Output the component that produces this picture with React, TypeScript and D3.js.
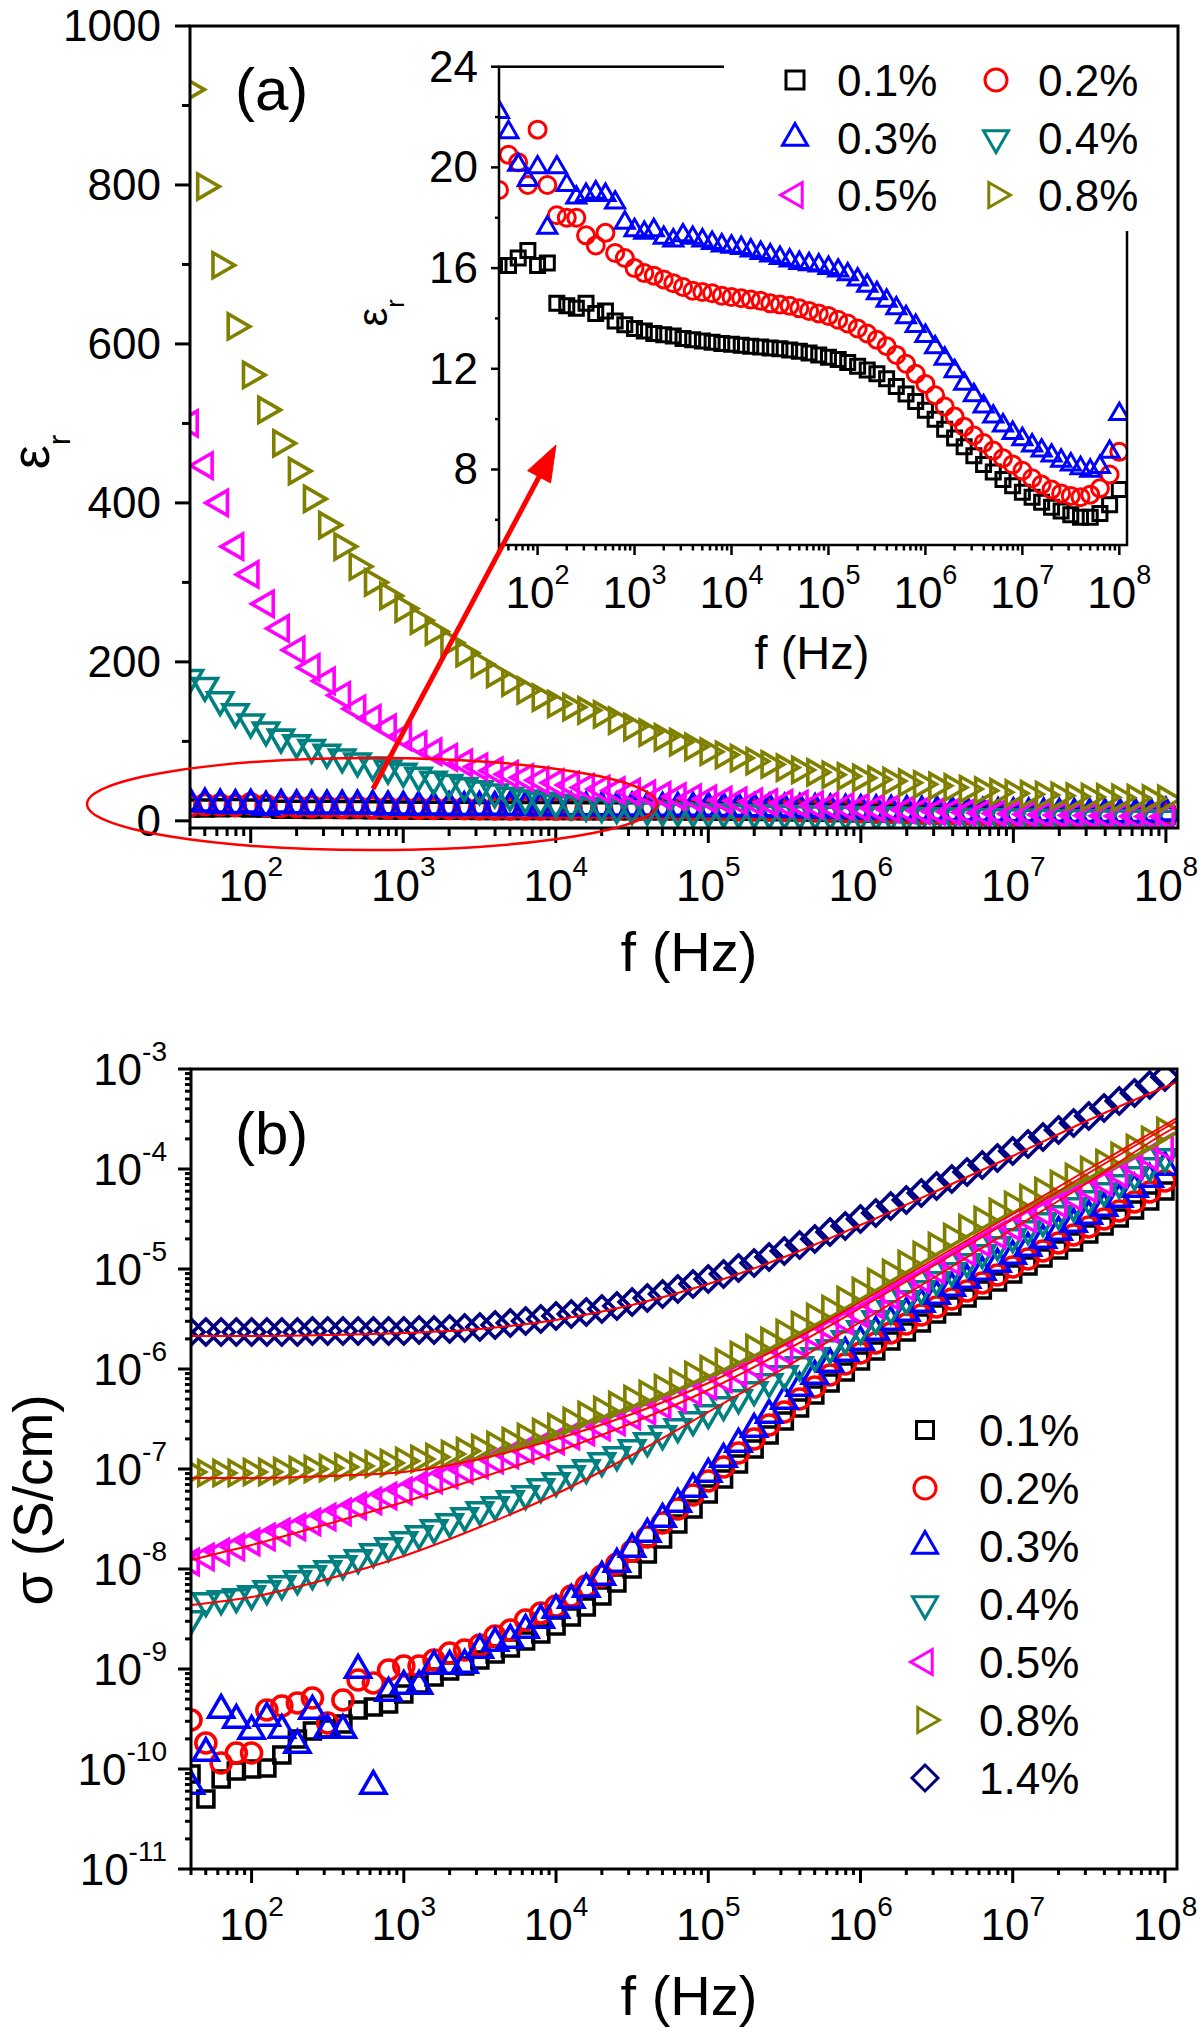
import React, { useEffect } from "react";
import * as d3 from "d3";

// ---------------- DATA ----------------
// frequency grid (Hz), 10 points per decade, 40 Hz .. 100 MHz
const FREQ = [
  40, 50.1, 63.1, 79.4,
  1e2, 1.26e2, 1.58e2, 2e2, 2.51e2, 3.16e2, 3.98e2, 5.01e2, 6.31e2, 7.94e2,
  1e3, 1.26e3, 1.58e3, 2e3, 2.51e3, 3.16e3, 3.98e3, 5.01e3, 6.31e3, 7.94e3,
  1e4, 1.26e4, 1.58e4, 2e4, 2.51e4, 3.16e4, 3.98e4, 5.01e4, 6.31e4, 7.94e4,
  1e5, 1.26e5, 1.58e5, 2e5, 2.51e5, 3.16e5, 3.98e5, 5.01e5, 6.31e5, 7.94e5,
  1e6, 1.26e6, 1.58e6, 2e6, 2.51e6, 3.16e6, 3.98e6, 5.01e6, 6.31e6, 7.94e6,
  1e7, 1.26e7, 1.58e7, 2e7, 2.51e7, 3.16e7, 3.98e7, 5.01e7, 6.31e7, 7.94e7,
  1e8,
];

// panel (a): relative permittivity
const EPS_01 = [16.1,16.1,16.4,16.7,16.1,16.2,14.6,14.5,14.4,14.6, 14.2,14.3,13.9,13.75,13.6,13.5,13.4,13.35,13.3,13.2, 13.15,13.1,13.05,13.0,12.97,12.93,12.9,12.87,12.83,12.8, 12.75,12.7,12.63,12.55,12.46,12.37,12.25,12.1,11.95,11.8, 11.6,11.3,11.0,10.7,10.35,10.0,9.6,9.25,8.9,8.55, 8.2,7.9,7.6,7.35,7.1,6.9,6.7,6.5,6.35,6.2, 6.1,6.1,6.25,6.6,7.2];
const EPS_02 = [19.1,20.5,20.2,19.3,21.5,19.3,18.1,18.0,18.0,17.3, 16.9,17.4,16.6,16.4,16.0,15.8,15.7,15.55,15.4,15.25, 15.1,15.05,15.0,14.9,14.85,14.8,14.75,14.7,14.6,14.55, 14.5,14.4,14.3,14.2,14.1,13.95,13.8,13.6,13.4,13.15, 12.9,12.55,12.2,11.8,11.4,10.95,10.5,10.1,9.7,9.35, 9.05,8.75,8.45,8.2,7.95,7.65,7.4,7.2,7.05,6.95, 6.9,7.0,7.25,7.8,8.7];
const EPS_03 = [22.2,21.4,20.1,19.5,20.0,17.6,20.0,19.3,18.8,18.9, 19.0,18.9,18.6,17.8,17.5,17.4,17.5,17.2,17.1,17.3, 17.2,17.1,17.0,16.9,16.85,16.8,16.7,16.6,16.5,16.4, 16.3,16.2,16.15,16.1,16.0,15.9,15.75,15.55,15.3,15.0, 14.7,14.4,14.05,13.7,13.3,12.85,12.4,11.9,11.4,10.95, 10.5,10.1,9.75,9.45,9.2,8.95,8.75,8.55,8.35,8.2, 8.05,7.95,8.1,8.7,10.2];
const EPS_04 = [180,170,152,137,124,114,105,98,92,86, 80,75,70,66,62,57,52,48,44,40, 36,32,28.5,25.5,23,21,19,17.5,16.2,15, 14,13.2,12.5,11.8,11.2,10.7,10.2,9.8,9.4,9, 8.7,8.4,8.1,7.8,7.5,7.2,6.9,6.6,6.3,6, 5.7,5.4,5.1,4.8,4.5,4.3,4.1,3.9,3.7,3.5, 3.4,3.3,3.2,3.1,3.0];
const EPS_05 = [500,447,400,345,310,273,242,215,193,176, 158,141,129,117,106,96,87,80,73,68, 63,58.5,54.5,51,48,45,42,40,38,36, 34,32,30.5,29,27.5,26,25,24,23,22, 21,20,19,18,17,16,15,14,13,12, 11.3,10.6,10,9.4,8.8,8.3,7.8,7.4,7,6.6, 6.3,6,5.7,5.5,5.3];
const EPS_08 = [920,798,699,622,561,517,475,440,405,372, 345,320,300,283,267,252,238,224,211,197, 185,174,164,155,147,143,139,134,126,118, 111,105,99,93,87,83,79,75,71,67, 64,61,58,56,54,52,50,48,46,44, 42,40,38,36,34.5,33.5,32.5,31.5,30.5,30, 29.5,29,28.5,28,27.5];

// panel (b): conductivity, stored as log10(sigma / (S/cm))
const SIG_01_LOG = [-10.05,-10.3,-10.1,-10.02,-10.0,-9.99,-9.86,-9.7,-9.62,-9.6, -9.55,-9.41,-9.38,-9.35,-9.25,-9.15,-9.08,-9.02,-8.97,-8.91, -8.85,-8.79,-8.72,-8.65,-8.57,-8.48,-8.38,-8.27,-8.14,-8.0, -7.85,-7.7,-7.55,-7.4,-7.25,-7.1,-6.95,-6.8,-6.66,-6.52, -6.39,-6.26,-6.14,-6.03,-5.92,-5.82,-5.72,-5.63,-5.54,-5.45, -5.37,-5.29,-5.21,-5.13,-5.05,-4.97,-4.89,-4.81,-4.73,-4.65, -4.57,-4.49,-4.41,-4.32,-4.22];
const SIG_02_LOG = [-9.51,-9.74,-9.94,-9.84,-9.84,-9.41,-9.37,-9.34,-9.29,-9.54, -9.31,-9.11,-9.14,-9.01,-8.97,-8.97,-8.91,-8.84,-8.81,-8.76, -8.67,-8.61,-8.51,-8.44,-8.37,-8.27,-8.17,-8.07,-7.95,-7.82, -7.68,-7.54,-7.4,-7.26,-7.12,-6.98,-6.84,-6.7,-6.56,-6.43, -6.3,-6.18,-6.06,-5.95,-5.84,-5.74,-5.64,-5.55,-5.46,-5.38, -5.3,-5.22,-5.14,-5.06,-4.98,-4.9,-4.82,-4.74,-4.66,-4.58, -4.5,-4.42,-4.33,-4.23,-4.12];
const SIG_03_LOG = [-10.17,-9.84,-9.41,-9.51,-9.62,-9.49,-9.61,-9.76,-9.42,-9.61, -9.61,-9.01,-10.17,-9.24,-9.17,-9.17,-8.97,-8.97,-8.96,-8.81, -8.74,-8.71,-8.61,-8.51,-8.41,-8.31,-8.2,-8.08,-7.95,-7.8, -7.65,-7.5,-7.35,-7.2,-7.05,-6.9,-6.75,-6.6,-6.46,-6.32, -6.19,-6.07,-5.95,-5.84,-5.73,-5.63,-5.53,-5.44,-5.35,-5.27, -5.19,-5.11,-5.03,-4.95,-4.87,-4.79,-4.71,-4.63,-4.55,-4.47, -4.39,-4.3,-4.2,-4.1,-3.98];
const SIG_04_LOG = [-8.5,-8.32,-8.3,-8.28,-8.25,-8.2,-8.15,-8.1,-8.05,-8.0, -7.95,-7.89,-7.83,-7.77,-7.71,-7.65,-7.59,-7.53,-7.47,-7.41, -7.36,-7.3,-7.25,-7.18,-7.12,-7.05,-6.99,-6.92,-6.86,-6.79, -6.72,-6.65,-6.58,-6.51,-6.44,-6.36,-6.29,-6.21,-6.13,-6.05, -5.96,-5.87,-5.79,-5.7,-5.6,-5.5,-5.4,-5.3,-5.2,-5.11, -5.02,-4.93,-4.84,-4.76,-4.68,-4.6,-4.52,-4.45,-4.37,-4.3, -4.22,-4.14,-4.06,-3.97,-3.88];
const SIG_05_LOG = [-7.93,-7.88,-7.83,-7.78,-7.73,-7.68,-7.63,-7.58,-7.53,-7.48, -7.43,-7.37,-7.32,-7.27,-7.22,-7.16,-7.11,-7.06,-7.01,-6.96, -6.91,-6.86,-6.81,-6.77,-6.72,-6.67,-6.63,-6.58,-6.53,-6.47, -6.42,-6.36,-6.3,-6.23,-6.17,-6.1,-6.04,-5.97,-5.9,-5.82, -5.75,-5.67,-5.6,-5.52,-5.45,-5.36,-5.27,-5.18,-5.1,-5.01, -4.92,-4.83,-4.74,-4.66,-4.58,-4.5,-4.43,-4.35,-4.28,-4.2, -4.13,-4.05,-3.97,-3.88,-3.78];
const SIG_08_LOG = [-7.03,-7.04,-7.04,-7.04,-7.03,-7.03,-7.02,-7.01,-7.0,-6.99, -6.98,-6.97,-6.95,-6.94,-6.92,-6.9,-6.88,-6.85,-6.82,-6.79, -6.76,-6.72,-6.68,-6.63,-6.58,-6.52,-6.46,-6.41,-6.36,-6.3, -6.25,-6.19,-6.13,-6.06,-6.0,-5.93,-5.86,-5.79,-5.72,-5.64, -5.56,-5.48,-5.4,-5.31,-5.22,-5.13,-5.04,-4.95,-4.86,-4.77, -4.68,-4.59,-4.51,-4.43,-4.36,-4.29,-4.22,-4.15,-4.08,-4.01, -3.94,-3.87,-3.79,-3.71,-3.62];
const SIG_14_LOG = [-5.63,-5.63,-5.63,-5.63,-5.63,-5.63,-5.63,-5.63,-5.62,-5.62, -5.62,-5.62,-5.62,-5.62,-5.62,-5.61,-5.61,-5.6,-5.59,-5.58, -5.56,-5.54,-5.52,-5.5,-5.47,-5.45,-5.43,-5.4,-5.37,-5.33, -5.29,-5.25,-5.2,-5.15,-5.1,-5.05,-4.99,-4.94,-4.88,-4.82, -4.76,-4.7,-4.63,-4.57,-4.5,-4.44,-4.37,-4.31,-4.24,-4.17, -4.1,-4.03,-3.96,-3.89,-3.82,-3.75,-3.68,-3.61,-3.54,-3.47, -3.39,-3.32,-3.24,-3.16,-3.08];

// fitted curves (red lines), log10(sigma)
const FIT_FREQ = [40, 1e2, 3.16e2, 1e3, 3.16e3, 1e4, 3.16e4, 1e5, 3.16e5, 1e6, 3.16e6, 1e7, 3.16e7, 1e8, 1.2e8];
const FIT_04_LOG = [-8.36,-8.28,-8.1,-7.87,-7.58,-7.25,-6.86,-6.43,-5.99,-5.53,-5.07,-4.6,-4.13,-3.64,-3.57];
const FIT_05_LOG = [-7.91,-7.76,-7.55,-7.33,-7.09,-6.83,-6.54,-6.21,-5.82,-5.39,-4.95,-4.5,-4.04,-3.59,-3.52];
const FIT_08_LOG = [-7.09,-7.09,-7.07,-7.03,-6.9,-6.7,-6.45,-6.14,-5.76,-5.33,-4.89,-4.45,-4.0,-3.56,-3.49];
const FIT_14_LOG = [-5.67,-5.67,-5.66,-5.64,-5.6,-5.51,-5.36,-5.15,-4.88,-4.56,-4.22,-3.87,-3.51,-3.18,-3.13];

// ticks
const X_DECADES = [2, 3, 4, 5, 6, 7, 8];
const A_YTICKS = [0, 200, 400, 600, 800, 1000];
const A_YMINOR = [100, 300, 500, 700, 900];
const I_YTICKS = [8, 12, 16, 20, 24];
const I_YMINOR = [6, 10, 14, 18, 22];
const B_YDECADES = [-11, -10, -9, -8, -7, -6, -5, -4, -3];

const LABELS = ["0.1%", "0.2%", "0.3%", "0.4%", "0.5%", "0.8%", "1.4%"];
const COLORS = ["#000000", "#ff0000", "#0000ff", "#008080", "#ff00ff", "#808000", "#000080"];
const SYMBOLS = ["square", "circle", "up", "down", "left", "right", "diamond"];

// ---------------- HELPERS ----------------
const FONT = "'Liberation Sans', Arial, Helvetica, sans-serif";

type Z = { tri: number; sq: number; r: number; dia: number };

function symPath(sym: string, z: Z): string {
  const a = z.tri;
  const R = a / Math.sqrt(3);
  const h = a / 2;
  switch (sym) {
    case "square": {
      const s = z.sq / 2;
      return `M${-s},${-s}H${s}V${s}H${-s}Z`;
    }
    case "circle": {
      const r = z.r;
      return `M${r},0A${r},${r} 0 1,1 ${-r},0A${r},${r} 0 1,1 ${r},0Z`;
    }
    case "up":
      return `M0,${-R}L${h},${R / 2}L${-h},${R / 2}Z`;
    case "down":
      return `M0,${R}L${h},${-R / 2}L${-h},${-R / 2}Z`;
    case "left":
      return `M${-R},0L${R / 2},${-h}L${R / 2},${h}Z`;
    case "right":
      return `M${R},0L${-R / 2},${-h}L${-R / 2},${h}Z`;
    default: {
      const d = z.dia;
      return `M0,${-d}L${d},0L0,${d}L${-d},0Z`;
    }
  }
}

const Z_MAIN: Z = { tri: 25, sq: 16, r: 10, dia: 13 };
const Z_INSET: Z = { tri: 19, sq: 14, r: 8.5, dia: 9 };
const Z_LEGA: Z = { tri: 25, sq: 18, r: 11, dia: 13 };
const Z_LEGB: Z = { tri: 25, sq: 17, r: 11, dia: 13 };

function isDecade(v: number) {
  const l = Math.log10(v);
  return Math.abs(l - Math.round(l)) < 1e-6;
}

function Markers(props: {
  xs: (v: number) => number;
  ys: (v: number) => number;
  values: number[];
  sym: string;
  color: string;
  z: Z;
  sw: number;
  clip: string;
}) {
  const { xs, ys, values, sym, color, z, sw, clip } = props;
  const d = symPath(sym, z);
  return (
    <g clipPath={`url(#${clip})`}>
      {values.map((v, i) => (
        <path
          key={i}
          d={d}
          transform={`translate(${xs(FREQ[i]).toFixed(2)},${ys(v).toFixed(2)})`}
          fill="none"
          stroke={color}
          strokeWidth={sw}
        />
      ))}
    </g>
  );
}

function PowLabel(props: { x: number; y: number; exp: string; size: number; sup: number; dy: number; anchor: string }) {
  const { x, y, exp, size, sup, dy, anchor } = props;
  return (
    <text x={x} y={y} fontSize={size} textAnchor={anchor as any} fill="#000">
      10
      <tspan fontSize={sup} dy={-dy}>
        {exp}
      </tspan>
    </text>
  );
}

export default function App() {
  useEffect(() => {
    document.body.style.margin = "0";
  }, []);

  // scales
  const xA = d3.scaleLog().domain([40, 1.2e8]).range([190, 1178]);
  const yA = d3.scaleLinear().domain([-9, 1000]).range([828, 26]);
  const xI = d3.scaleLog().domain([40, 1.2e8]).range([499, 1127]);
  const yI = d3.scaleLinear().domain([5, 24]).range([545, 66.7]);
  const xB = d3.scaleLog().domain([40, 1.2e8]).range([191, 1177]);
  const yB = d3.scaleLog().domain([1e-11, 1e-3]).range([1869, 1069]);

  const A_SERIES = [EPS_01, EPS_02, EPS_03, EPS_04, EPS_05, EPS_08];
  const I_SERIES = [EPS_01, EPS_02, EPS_03];
  const B_SERIES = [SIG_01_LOG, SIG_02_LOG, SIG_03_LOG, SIG_04_LOG, SIG_05_LOG, SIG_08_LOG, SIG_14_LOG].map((s) =>
    s.map((v) => Math.pow(10, v))
  );
  const FITS = [FIT_04_LOG, FIT_05_LOG, FIT_08_LOG, FIT_14_LOG].map((s) => s.map((v) => Math.pow(10, v)));

  const fitLine = d3
    .line<number>()
    .x((_, i) => xB(FIT_FREQ[i]))
    .y((v) => yB(v))
    .curve(d3.curveMonotoneX);

  const xTicks = xA.ticks();
  const bYTicks = yB.ticks();

  // arrow geometry
  const tail = [373, 789];
  const tip = [556, 445];
  const dx = tip[0] - tail[0];
  const dyv = tip[1] - tail[1];
  const len = Math.hypot(dx, dyv);
  const ux = dx / len;
  const uy = dyv / len;
  const HL = 36;
  const HW = 13;
  const bx = tip[0] - ux * HL;
  const by = tip[1] - uy * HL;
  const head = `M${tip[0]},${tip[1]}L${bx - uy * HW},${by + ux * HW}L${bx + uy * HW},${by - ux * HW}Z`;

  // legend a layout
  const legA = [
    { i: 0, x: 795, tx: 837, y: 80 },
    { i: 1, x: 996, tx: 1038, y: 80 },
    { i: 2, x: 795, tx: 837, y: 138 },
    { i: 3, x: 996, tx: 1038, y: 138 },
    { i: 4, x: 795, tx: 837, y: 195 },
    { i: 5, x: 996, tx: 1038, y: 195 },
  ];

  return (
    <svg
      width={1200}
      height={2029}
      viewBox="0 0 1200 2029"
      style={{ position: "absolute", left: 0, top: 0, background: "#fff" }}
      fontFamily={FONT}
    >
      <defs>
        <clipPath id="clipA">
          <rect x={190} y={26} width={988} height={802} />
        </clipPath>
        <clipPath id="clipI">
          <rect x={499} y={66.7} width={628} height={478.3} />
        </clipPath>
        <clipPath id="clipB">
          <rect x={191} y={1069} width={986} height={800} />
        </clipPath>
      </defs>
      <rect x={0} y={0} width={1200} height={2029} fill="#fff" />

      {/* ================= PANEL A ================= */}
      {A_SERIES.map((vals, k) => (
        <Markers key={k} xs={xA} ys={yA} values={vals} sym={SYMBOLS[k]} color={COLORS[k]} z={Z_MAIN} sw={3.6} clip="clipA" />
      ))}

      {/* axes ticks */}
      {A_YTICKS.map((v) => (
        <line key={"ay" + v} x1={175} x2={190} y1={yA(v)} y2={yA(v)} stroke="#000" strokeWidth={3} />
      ))}
      {A_YMINOR.map((v) => (
        <line key={"aym" + v} x1={182} x2={190} y1={yA(v)} y2={yA(v)} stroke="#000" strokeWidth={3} />
      ))}
      {xTicks.map((v, i) => (
        <line
          key={"ax" + i}
          x1={xA(v)}
          x2={xA(v)}
          y1={828}
          y2={isDecade(v) ? 843 : 836}
          stroke="#000"
          strokeWidth={3}
        />
      ))}
      <rect x={190} y={26} width={988} height={802} fill="none" stroke="#000" strokeWidth={3} />

      {A_YTICKS.map((v) => (
        <text key={"ayl" + v} x={161} y={yA(v) + 15} fontSize={44} textAnchor="end">
          {v}
        </text>
      ))}
      {X_DECADES.map((e) => (
        <PowLabel key={"axl" + e} x={xA(Math.pow(10, e))} y={901} exp={String(e)} size={44} sup={28} dy={25} anchor="middle" />
      ))}
      <text x={689} y={971} fontSize={56} textAnchor="middle">
        f (Hz)
      </text>
      <text transform="translate(49,452) rotate(-90)" fontSize={54} textAnchor="middle">
        ε
        <tspan fontSize={32} dy={21}>
          r
        </tspan>
      </text>
      <text x={235} y={110} fontSize={60}>
        (a)
      </text>

      {/* ---------- inset ---------- */}
      {I_SERIES.map((vals, k) => (
        <Markers key={"i" + k} xs={xI} ys={yI} values={vals} sym={SYMBOLS[k]} color={COLORS[k]} z={Z_INSET} sw={3} clip="clipI" />
      ))}
      {I_YTICKS.map((v) => (
        <line key={"iy" + v} x1={491} x2={499} y1={yI(v)} y2={yI(v)} stroke="#000" strokeWidth={2.5} />
      ))}
      {I_YMINOR.map((v) => (
        <line key={"iym" + v} x1={495} x2={499} y1={yI(v)} y2={yI(v)} stroke="#000" strokeWidth={2.5} />
      ))}
      {xTicks.map((v, i) => (
        <line
          key={"ix" + i}
          x1={xI(v)}
          x2={xI(v)}
          y1={545}
          y2={isDecade(v) ? 555 : 550.5}
          stroke="#000"
          strokeWidth={2.5}
        />
      ))}
      <rect x={499} y={66.7} width={628} height={478.3} fill="none" stroke="#000" strokeWidth={2.5} />
      {I_YTICKS.map((v) => (
        <text key={"iyl" + v} x={478} y={yI(v) + 15} fontSize={44} textAnchor="end">
          {v}
        </text>
      ))}
      {X_DECADES.map((e) => (
        <PowLabel key={"ixl" + e} x={xI(Math.pow(10, e))} y={608} exp={String(e)} size={44} sup={27} dy={24} anchor="middle" />
      ))}
      <text x={812} y={669} fontSize={47} textAnchor="middle">
        f (Hz)
      </text>
      <text transform="translate(387,313) rotate(-90)" fontSize={42} textAnchor="middle">
        ε
        <tspan fontSize={25} dy={17}>
          r
        </tspan>
      </text>

      {/* legend a */}
      <rect x={724} y={34} width={441} height={197} fill="#fff" />
      {legA.map((l) => (
        <g key={"la" + l.i}>
          <path
            d={symPath(SYMBOLS[l.i], Z_LEGA)}
            transform={`translate(${l.x},${l.y})`}
            fill="none"
            stroke={COLORS[l.i]}
            strokeWidth={3}
          />
          <text x={l.tx} y={l.y + 15.5} fontSize={44}>
            {LABELS[l.i]}
          </text>
        </g>
      ))}

      {/* ellipse + arrow */}
      <ellipse cx={372} cy={804} rx={285} ry={46} fill="none" stroke="#ff0000" strokeWidth={2.5} />
      <line x1={tail[0]} y1={tail[1]} x2={bx + ux * 2} y2={by + uy * 2} stroke="#ff0000" strokeWidth={5} />
      <path d={head} fill="#ff0000" stroke="#ff0000" strokeWidth={1} />

      {/* ================= PANEL B ================= */}
      {B_SERIES.map((vals, k) => (
        <Markers key={"b" + k} xs={xB} ys={yB} values={vals} sym={SYMBOLS[k]} color={COLORS[k]} z={Z_MAIN} sw={3.6} clip="clipB" />
      ))}
      <g clipPath="url(#clipB)">
        {FITS.map((f, k) => (
          <path key={"fit" + k} d={fitLine(f) || ""} fill="none" stroke="#ff0000" strokeWidth={2} />
        ))}
      </g>
      {bYTicks.map((v, i) => (
        <line
          key={"by" + i}
          x1={isDecade(v) ? 178 : 185}
          x2={191}
          y1={yB(v)}
          y2={yB(v)}
          stroke="#000"
          strokeWidth={3}
        />
      ))}
      {xTicks.map((v, i) => (
        <line
          key={"bx" + i}
          x1={xB(v)}
          x2={xB(v)}
          y1={1869}
          y2={isDecade(v) ? 1883 : 1875}
          stroke="#000"
          strokeWidth={3}
        />
      ))}
      <rect x={191} y={1069} width={986} height={800} fill="none" stroke="#000" strokeWidth={3} />
      {B_YDECADES.map((e) => (
        <PowLabel key={"byl" + e} x={167} y={yB(Math.pow(10, e)) + 16} exp={String(e)} size={44} sup={28} dy={24} anchor="end" />
      ))}
      {X_DECADES.map((e) => (
        <PowLabel key={"bxl" + e} x={xB(Math.pow(10, e))} y={1940} exp={String(e)} size={44} sup={28} dy={24} anchor="middle" />
      ))}
      <text x={689} y={2015} fontSize={56} textAnchor="middle">
        f (Hz)
      </text>
      <text transform="translate(52,1500) rotate(-90)" fontSize={55} textAnchor="middle">
        σ (S/cm)
      </text>
      <text x={235} y={1154} fontSize={60}>
        (b)
      </text>

      {/* legend b */}
      {LABELS.map((lab, k) => (
        <g key={"lb" + k}>
          <path
            d={symPath(SYMBOLS[k], Z_LEGB)}
            transform={`translate(925,${1430 + 58 * k})`}
            fill="none"
            stroke={COLORS[k]}
            strokeWidth={3}
          />
          <text x={979} y={1430 + 58 * k + 15.5} fontSize={44}>
            {lab}
          </text>
        </g>
      ))}
    </svg>
  );
}
